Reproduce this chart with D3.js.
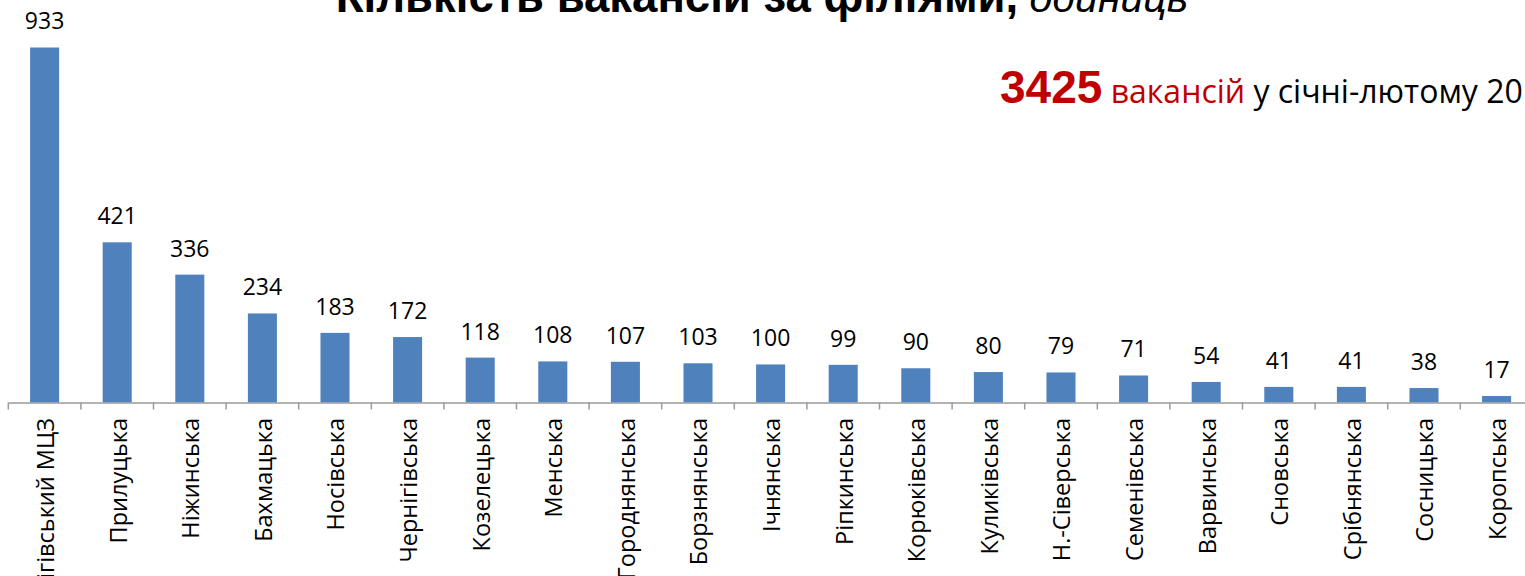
<!DOCTYPE html>
<html><head><meta charset="utf-8">
<script src="https://cdn.jsdelivr.net/npm/d3@7"></script>
<style>html,body{margin:0;padding:0;background:#fff;overflow:hidden}</style>
</head><body>
<svg id="chart" width="1525" height="576"></svg>
<script>
const categories = ["Чернігівський МЦЗ","Прилуцька","Ніжинська","Бахмацька","Носівська","Чернігівська","Козелецька","Менська","Городнянська","Борзнянська","Ічнянська","Ріпкинська","Корюківська","Куликівська","Н.-Сіверська","Семенівська","Варвинська","Сновська","Срібнянська","Сосницька","Коропська"];
const values = [933,421,336,234,183,172,118,108,107,103,100,99,90,80,79,71,54,41,41,38,17];
const titleMain = "Кількість вакансій за філіями,";
const titleUnit = " одиниць";
const totalValue = "3425";
const totalWord = " вакансій";
const totalRest = " у січні-лютому 20";

const svg = d3.select("#chart");
const x = d3.scaleBand().domain(categories).range([8.3, 8.3 + 72.6 * categories.length]).paddingInner(0.6).paddingOuter(0.3);
const y = d3.scaleLinear().domain([0, 1000]).range([402.5, 22]);

// bars
svg.append("g").selectAll("rect").data(values).join("rect")
  .attr("x", (d, i) => x(categories[i]))
  .attr("width", x.bandwidth())
  .attr("y", d => y(d))
  .attr("height", d => y(0) - y(d))
  .attr("fill", "#4F81BD");

// value labels
svg.append("g").selectAll("text").data(values).join("text")
  .attr("x", (d, i) => x(categories[i]) + x.bandwidth() / 2)
  .attr("y", d => y(d) - 18)
  .attr("text-anchor", "middle")
  .attr("font-family", "Open Sans, sans-serif")
  .attr("font-size", 23)
  .attr("fill", "#000")
  .text(d => d);

// axis
const step = x.step();
const xAxis = d3.axisBottom(x).tickSize(0).tickFormat("");
const ax = svg.append("g").attr("transform", `translate(0,${y(0)})`).call(xAxis);
ax.select(".domain").attr("stroke", "#9a9a9a").attr("stroke-width", 1.5);
const bounds = d3.range(categories.length + 1).map(i => x.range()[0] + i * step);
ax.selectAll(".bt").data(bounds).join("line").attr("class", "bt")
  .attr("x1", d => d).attr("x2", d => d).attr("y1", 0).attr("y2", 7)
  .attr("stroke", "#9a9a9a").attr("stroke-width", 1.5);

// category labels
svg.append("g").selectAll("text").data(categories).join("text")
  .attr("transform", d => `translate(${x(d) + x.bandwidth() / 2},418) rotate(-90)`)
  .attr("dy", "0.4em")
  .attr("text-anchor", "end")
  .attr("font-family", "Open Sans, sans-serif")
  .attr("font-size", 23.5)
  .attr("fill", "#000")
  .text(d => d);

// title
const t = svg.append("text").attr("x", 762).attr("y", 12).attr("text-anchor", "middle")
  .attr("font-family", "Liberation Sans, Arial, sans-serif").attr("font-size", 45.5);
t.append("tspan").attr("font-weight", "bold").text(titleMain);
t.append("tspan").attr("font-style", "italic").attr("font-size", 41).text(titleUnit);

// annotation
const a = svg.append("text").attr("x", 1000).attr("y", 103);
a.append("tspan").attr("font-family", "Liberation Sans, Arial, sans-serif").attr("font-weight", "bold")
  .attr("font-size", 46).attr("fill", "#C00000").text(totalValue);
a.append("tspan").attr("font-family", "Open Sans, sans-serif").attr("font-size", 32).attr("fill", "#C00000").text(totalWord);
a.append("tspan").attr("font-family", "Open Sans, sans-serif").attr("font-size", 32).attr("fill", "#000").text(totalRest);
</script>
</body></html>
